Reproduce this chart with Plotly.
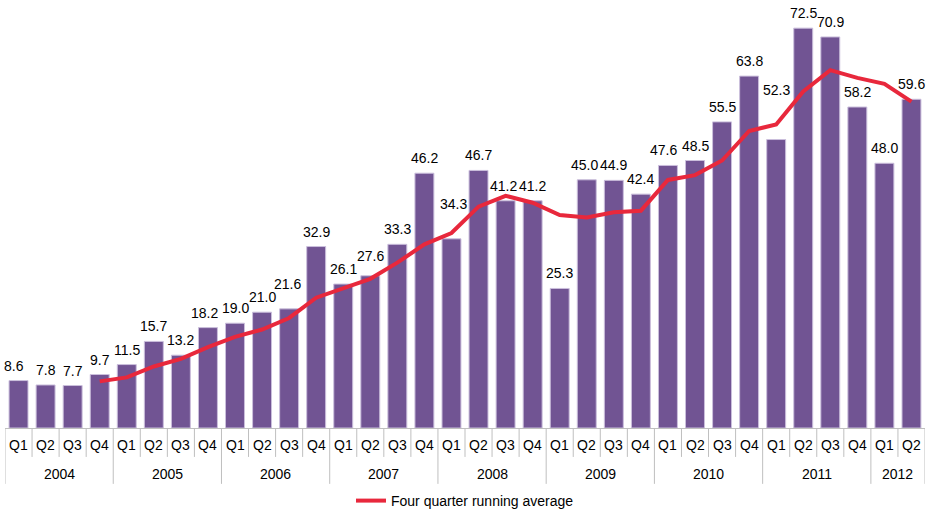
import plotly.graph_objects as go

years = ["2004"] * 4 + ["2005"] * 4 + ["2006"] * 4 + ["2007"] * 4 + ["2008"] * 4 + \
        ["2009"] * 4 + ["2010"] * 4 + ["2011"] * 4 + ["2012"] * 2
quarters = ["Q1", "Q2", "Q3", "Q4"] * 8 + ["Q1", "Q2"]

values = [8.6, 7.8, 7.7, 9.7, 11.5, 15.7, 13.2, 18.2, 19.0, 21.0, 21.6, 32.9,
          26.1, 27.6, 33.3, 46.2, 34.3, 46.7, 41.2, 41.2, 25.3, 45.0, 44.9, 42.4,
          47.6, 48.5, 55.5, 63.8, 52.3, 72.5, 70.9, 58.2, 48.0, 59.6]

# four quarter running average (starts 2004 Q4)
running_avg = [8.45, 9.18, 11.15, 12.53, 14.65, 16.53, 17.85, 19.95, 23.63,
               25.4, 27.05, 29.98, 33.3, 35.35, 40.13, 42.1, 40.85, 38.6,
               38.18, 39.1, 39.4, 44.98, 45.85, 48.5, 53.85, 55.03, 61.03,
               64.88, 63.48, 62.4, 59.18]

FONT = "Liberation Sans, Arial, sans-serif"
GRID = "#bfbfbf"
FS = 14

cats = [f"{y} {q}" for y, q in zip(years, quarters)]
avg_cats = cats[len(cats) - len(running_avg):]

fig = go.Figure()
fig.add_trace(go.Bar(
    x=cats, y=values,
    marker=dict(color="#715493", line=dict(color="#cbbfdc", width=1)),
    showlegend=False, hoverinfo="skip",
))
fig.add_trace(go.Scatter(
    x=avg_cats, y=running_avg,
    mode="lines", line=dict(color="#e8283c", width=4),
    name="Four quarter running average",
))

# data labels (extra offsets are style only): index -> (xshift, yshift)
extra = {0: (-5, 0), 7: (-3, 0), 10: (-2, 10), 13: (0, 5), 16: (2, 20),
         18: (-2, 0), 21: (-2, 0), 24: (-4, 0), 28: (0, 35)}
for i, v in enumerate(values):
    dx, dy = extra.get(i, (0, 0))
    fig.add_annotation(
        x=i, y=v, text=f"{v:.1f}", showarrow=False,
        yanchor="bottom", xanchor="center", yshift=5 + dy, xshift=dx,
        font=dict(family=FONT, size=FS, color="#000000"),
    )

# manual two-level category axis
PLOT_H = 429
q_len = -29 / PLOT_H
y_len = -56 / PLOT_H
n = len(cats)
for i in range(n + 1):
    is_year_edge = i == 0 or i == n or years[i] != years[i - 1]
    fig.add_shape(type="line", xref="x", yref="paper",
                  x0=i - 0.5, x1=i - 0.5, y0=0, y1=y_len if is_year_edge else q_len,
                  line=dict(color=GRID, width=1))
for i, q in enumerate(quarters):
    fig.add_annotation(x=i, y=0, yref="paper", text=q, showarrow=False,
                       yanchor="middle", yshift=-17,
                       font=dict(family=FONT, size=FS, color="#000000"))
start = 0
for i in range(1, n + 1):
    if i == n or years[i] != years[start]:
        fig.add_annotation(x=(start + i - 1) / 2, y=0, yref="paper", text=years[start],
                           showarrow=False, yanchor="middle", yshift=-46,
                           font=dict(family=FONT, size=FS, color="#000000"))
        start = i

fig.update_layout(
    width=936, height=517,
    margin=dict(l=5, r=11, t=0, b=88),
    paper_bgcolor="white", plot_bgcolor="white",
    bargap=0.3,
    font=dict(family=FONT, size=FS, color="#000000"),
    legend=dict(orientation="h", x=0.5, xanchor="center", y=-73 / PLOT_H,
                yanchor="middle", font=dict(family=FONT, size=FS)),
    xaxis=dict(
        type="category", showticklabels=False,
        showline=True, linecolor=GRID, linewidth=1,
        ticks="", showgrid=False, zeroline=False, automargin=False,
        range=[-0.5, n - 0.5],
    ),
    yaxis=dict(range=[0, 77.6], visible=False, showgrid=False, zeroline=False),
)

fig.write_html("out.html",
               config={"displayModeBar": False},
               post_script="document.body.style.margin='0px';"
                           "document.body.style.overflow='hidden';")
